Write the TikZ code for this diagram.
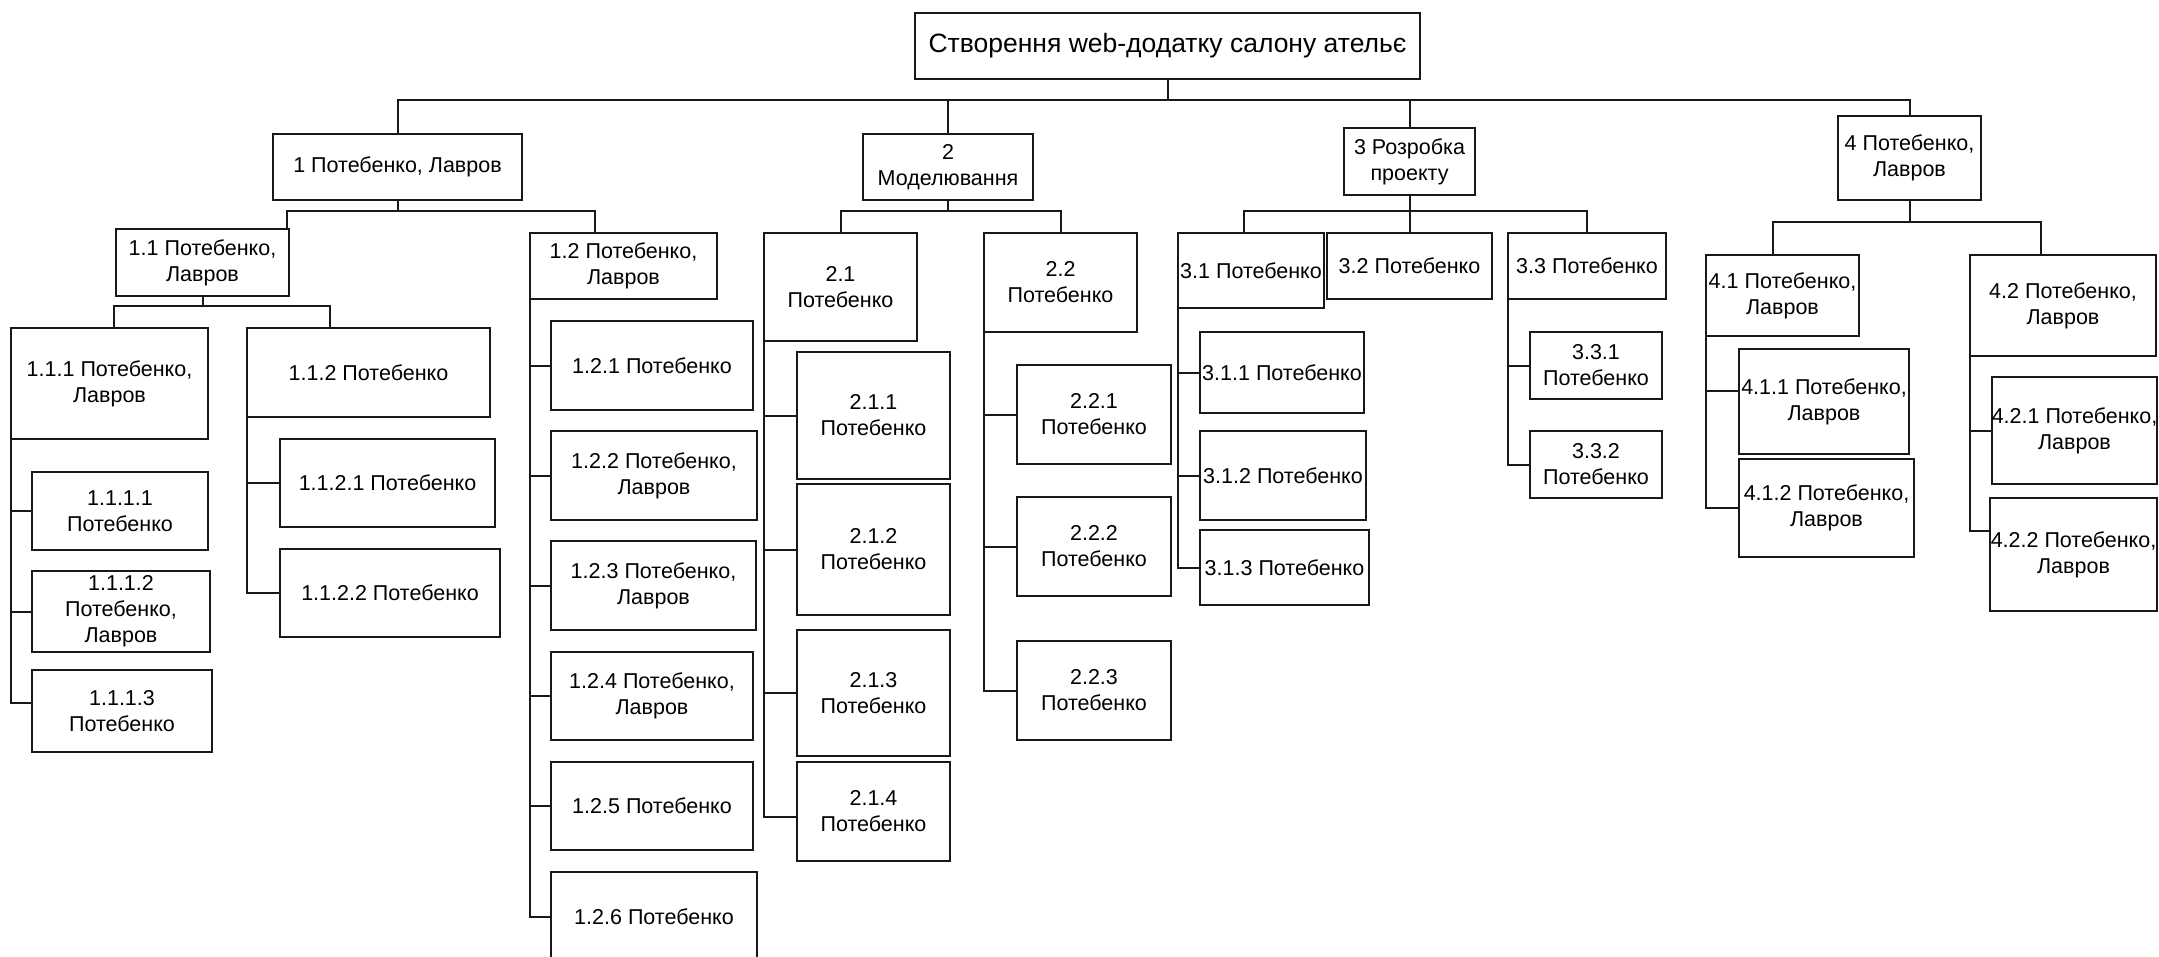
\documentclass[tikz,border=0pt]{standalone}
\usepackage{fontspec}
\setmainfont{Liberation Sans}

\tikzset{
  wbs/.style={draw=black!90, line width=2pt, inner sep=0pt, outer sep=0pt,
    align=center, font=\fontsize{21.5}{26}\selectfont},
  conn/.style={draw=black!90, line width=2pt}
}
% box given by its corners (pixel coordinates, y downwards)
\newcommand{\wbox}[7][]{\node[wbs, minimum width={(#5-#3)*1pt}, minimum height={(#6-#4)*1pt}, #1]
  (#2) at ({(#3+#5)/2},{(#4+#6)/2}) {#7};}

\begin{document}
\begin{tikzpicture}[x=1pt, y=-1pt]
\useasboundingbox (0,0) rectangle (2159,957);

% level 0
\wbox[font=\fontsize{26.5}{31}\selectfont]{root}{915}{13}{1420}{79}{Створення web-додатку салону ательє}

% level 1
\wbox{n1}{273}{134}{522}{200}{1 Потебенко, Лавров}
\wbox{n2}{863}{134}{1033}{200}{2\\Моделювання}
\wbox{n3}{1344}{128}{1475}{195}{3 Розробка\\проекту}
\wbox{n4}{1838}{116}{1981}{200}{4 Потебенко,\\Лавров}

% branch 1
\wbox{n11}{116}{229}{289}{296}{1.1 Потебенко,\\Лавров}
\wbox{n12}{530}{233}{717}{299}{1.2 Потебенко,\\Лавров}
\wbox{n111}{11}{328}{208}{439}{1.1.1 Потебенко,\\Лавров}
\wbox{n112}{247}{328}{490}{417}{1.1.2 Потебенко}
\wbox{n1111}{32}{472}{208}{550}{1.1.1.1\\Потебенко}
\wbox{n1112}{32}{571}{210}{652}{1.1.1.2\\Потебенко,\\Лавров}
\wbox{n1113}{32}{670}{212}{752}{1.1.1.3\\Потебенко}
\wbox{n1121}{280}{439}{495}{527}{1.1.2.1 Потебенко}
\wbox{n1122}{280}{549}{500}{637}{1.1.2.2 Потебенко}
\wbox{n121}{551}{321}{753}{410}{1.2.1 Потебенко}
\wbox{n122}{551}{431}{757}{520}{1.2.2 Потебенко,\\Лавров}
\wbox{n123}{551}{541}{756}{630}{1.2.3 Потебенко,\\Лавров}
\wbox{n124}{551}{652}{753}{740}{1.2.4 Потебенко,\\Лавров}
\wbox{n125}{551}{762}{753}{850}{1.2.5 Потебенко}
\wbox{n126}{551}{872}{757}{961}{1.2.6 Потебенко}

% branch 2
\wbox{n21}{764}{233}{917}{341}{2.1\\Потебенко}
\wbox{n22}{984}{233}{1137}{332}{2.2\\Потебенко}
\wbox{n211}{797}{352}{950}{479}{2.1.1\\Потебенко}
\wbox{n212}{797}{484}{950}{615}{2.1.2\\Потебенко}
\wbox{n213}{797}{630}{950}{756}{2.1.3\\Потебенко}
\wbox{n214}{797}{762}{950}{861}{2.1.4\\Потебенко}
\wbox{n221}{1017}{365}{1171}{464}{2.2.1\\Потебенко}
\wbox{n222}{1017}{497}{1171}{596}{2.2.2\\Потебенко}
\wbox{n223}{1017}{641}{1171}{740}{2.2.3\\Потебенко}

% branch 3
\wbox{n31}{1178}{233}{1324}{308}{3.1 Потебенко}
\wbox{n32}{1327}{233}{1492}{299}{3.2 Потебенко}
\wbox{n33}{1508}{233}{1666}{299}{3.3 Потебенко}
\wbox{n311}{1200}{332}{1364}{413}{3.1.1 Потебенко}
\wbox{n312}{1200}{431}{1366}{520}{3.1.2 Потебенко}
\wbox{n313}{1200}{530}{1369}{605}{3.1.3 Потебенко}
\wbox{n331}{1530}{332}{1662}{399}{3.3.1\\Потебенко}
\wbox{n332}{1530}{431}{1662}{498}{3.3.2\\Потебенко}

% branch 4
\wbox{n41}{1706}{255}{1859}{336}{4.1 Потебенко,\\Лавров}
\wbox{n42}{1970}{255}{2156}{356}{4.2 Потебенко,\\Лавров}
\wbox{n411}{1739}{349}{1909}{454}{4.1.1 Потебенко,\\Лавров}
\wbox{n412}{1739}{459}{1914}{557}{4.1.2 Потебенко,\\Лавров}
\wbox{n421}{1992}{377}{2157}{484}{4.2.1 Потебенко,\\Лавров}
\wbox{n422}{1990}{498}{2157}{611}{4.2.2 Потебенко,\\Лавров}

% top-level bus
\draw[conn] (root.south) -- (root.south |- 0,100) coordinate (b0);
\foreach \c in {n1,n2,n3,n4} \draw[conn] (b0) -| (\c.north);

% bus under 1
\draw[conn] (n1.south) -- (n1.south |- 0,211) coordinate (b1);
\draw[conn] (b1) -| ([xshift=-2pt]n11.north east);
\draw[conn] (b1) -| ([xshift=-29pt]n12.north);

% bus under 1.1
\draw[conn] (n11.south) -- (n11.south |- 0,306) coordinate (b11);
\draw[conn] (b11) -| ([xshift=4pt]n111.north);
\draw[conn] (b11) -| ([xshift=-39pt]n112.north);

% bus under 2
\draw[conn] (n2.south) -- (n2.south |- 0,211) coordinate (b2);
\draw[conn] (b2) -| (n21.north);
\draw[conn] (b2) -| (n22.north);

% bus under 3
\draw[conn] (n3.south) -- (n3.south |- 0,211) coordinate (b3);
\draw[conn] (b3) -| ([xshift=-7pt]n31.north);
\draw[conn] (b3) -| (n32.north);
\draw[conn] (b3) -| (n33.north);

% bus under 4
\draw[conn] (n4.south) -- (n4.south |- 0,222) coordinate (b4);
\draw[conn] (b4) -| ([xshift=-10pt]n41.north);
\draw[conn] (b4) -| ([xshift=-22pt]n42.north);

% side spines
\draw[conn] (n111.south west) |- (n1111.west);
\draw[conn] (n111.south west) |- (n1112.west);
\draw[conn] (n111.south west) |- ([yshift=8pt]n1113.west);
\draw[conn] (n112.south west) |- (n1121.west);
\draw[conn] (n112.south west) |- (n1122.west);
\foreach \c in {n121,n122,n123,n124,n125,n126} \draw[conn] (n12.south west) |- (\c.west);
\foreach \c in {n211,n212,n213} \draw[conn] (n21.south west) |- (\c.west);
\draw[conn] (n21.south west) |- ([yshift=-5pt]n214.west);
\foreach \c in {n221,n222,n223} \draw[conn] (n22.south west) |- (\c.west);
\foreach \c in {n311,n312,n313} \draw[conn] (n31.south west) |- (\c.west);
\foreach \c in {n331,n332} \draw[conn] (n33.south west) |- (\c.west);
\draw[conn] (n41.south west) |- ([yshift=11pt]n411.west);
\draw[conn] (n41.south west) |- (n412.west);
\draw[conn] (n42.south west) |- (n421.west);
\draw[conn] (n42.south west) |- ([yshift=24pt]n422.west);
\end{tikzpicture}
\end{document}
